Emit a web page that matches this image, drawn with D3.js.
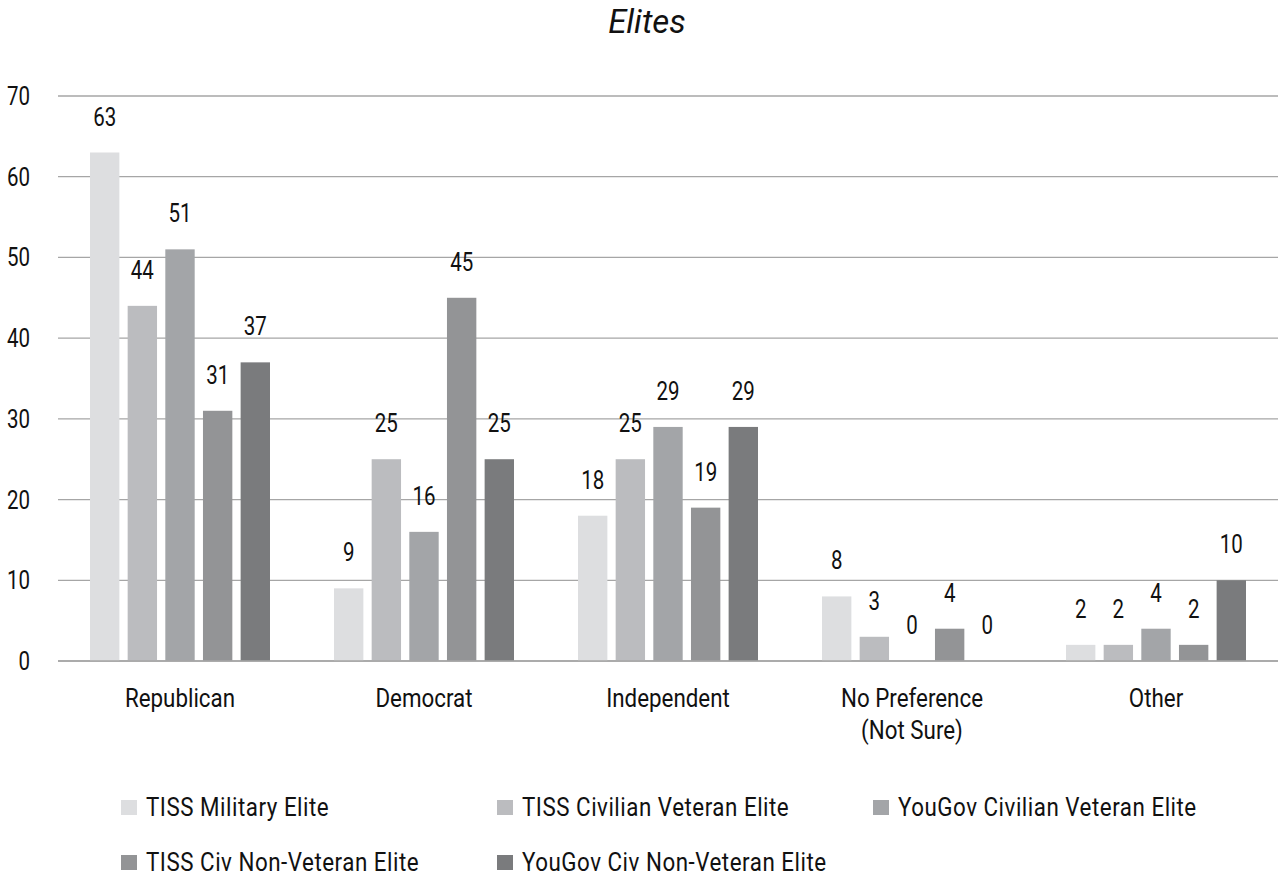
<!DOCTYPE html>
<html><head><meta charset="utf-8">
<script src="https://cdn.jsdelivr.net/npm/d3@7"></script>
<style>
body{margin:0;background:#fff;}
text{font-family:Roboto,"DejaVu Sans",sans-serif;fill:#111;}
</style></head>
<body><svg id="c" width="1285" height="896"></svg>
<script>
const categories = ["Republican","Democrat","Independent","No Preference\n(Not Sure)","Other"];
const seriesNames = ["TISS Military Elite","TISS Civilian Veteran Elite","YouGov Civilian Veteran Elite","TISS Civ Non-Veteran Elite","YouGov Civ Non-Veteran Elite"];
const tissMilitary = [63,9,18,8,2];
const tissCivVet = [44,25,25,3,2];
const yougovCivVet = [51,16,29,0,4];
const tissCivNonVet = [31,45,19,4,2];
const yougovCivNonVet = [37,25,29,0,10];
const yTicks = [0,10,20,30,40,50,60,70];
const colors = ["#dddee0","#bbbcbf","#a3a5a8","#939496","#7a7b7d"];
const seriesValues = [tissMilitary,tissCivVet,yougovCivVet,tissCivNonVet,yougovCivNonVet];

const SX = 0.82;
const svg = d3.select("#c");
const x0 = d3.scaleBand().domain(categories).range([58,1278]);
const x1 = d3.scaleBand().domain(d3.range(5)).range([0,180]).paddingInner(0.22);
const y = d3.scaleLinear().domain([0,70]).range([661,96]);

function label(parent, x, yy, txt, size, anchor, sx){
  return parent.append("text")
    .attr("transform",`translate(${x},${yy}) scale(${sx},1)`)
    .attr("text-anchor",anchor||"start").style("font-size",size+"px").text(txt);
}

label(svg,647,33,"Elites",33,"middle",1.0).style("font-style","italic");

svg.append("g").selectAll("line").data(yTicks).join("line")
  .attr("x1",58).attr("x2",1278).attr("y1",d=>y(d)).attr("y2",d=>y(d))
  .attr("stroke","#a6a6a6").attr("stroke-width",1.3);
const yl = svg.append("g");
yTicks.forEach(t=>label(yl,30,y(t)+9,t,25,"end",SX));

const groups = svg.append("g").selectAll("g").data(categories).join("g")
  .attr("transform",c=>`translate(${x0(c)+x0.bandwidth()/2-90},0)`);
groups.each(function(c,ci){
  const g = d3.select(this);
  const vals = seriesValues.map((s,si)=>({si,v:s[ci]}));
  g.selectAll("rect").data(vals).join("rect")
    .attr("x",d=>x1(d.si)).attr("width",x1.bandwidth())
    .attr("y",d=>y(d.v)).attr("height",d=>y(0)-y(d.v))
    .attr("fill",d=>colors[d.si]);
  vals.forEach(d=>label(g,x1(d.si)+x1.bandwidth()/2,y(d.v)-27,d.v,25,"middle",SX));
});
svg.append("line").attr("x1",58).attr("x2",1278).attr("y1",y(0)).attr("y2",y(0))
  .attr("stroke","#a6a6a6").attr("stroke-width",1.5);

const cl = svg.append("g");
categories.forEach(c=>{
  c.split("\n").forEach((ln,i)=>label(cl,x0(c)+x0.bandwidth()/2,707+i*32,ln,26,"middle",0.86));
});

const legX=[121,497,873,121,497], legY=[807,807,807,862,862];
const leg = svg.append("g").selectAll("g").data(seriesNames).join("g")
  .attr("transform",(d,i)=>`translate(${legX[i]},${legY[i]})`);
leg.append("rect").attr("x",0).attr("y",-7).attr("width",16).attr("height",15)
  .attr("fill",(d,i)=>colors[i]);
leg.each(function(d){ label(d3.select(this),25,9,d,26,"start",0.86).style("letter-spacing","0.6px"); });
</script></body></html>
